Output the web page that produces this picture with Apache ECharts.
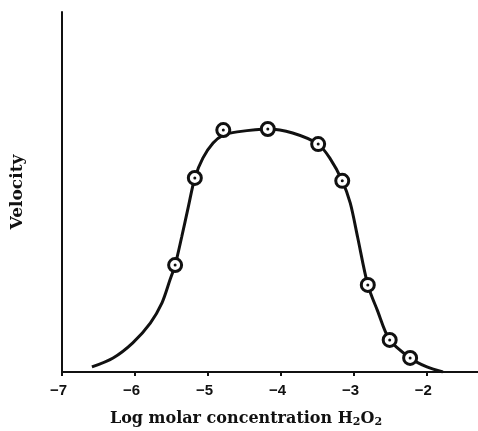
<!DOCTYPE html>
<html>
<head>
<meta charset="utf-8">
<script src="https://cdn.jsdelivr.net/npm/echarts@6/dist/echarts.min.js"></script>
<style>
  html, body { margin: 0; padding: 0; background: #fff; }
  #chart { width: 478px; height: 431px; }
</style>
</head>
<body>
<div id="chart"></div>
<script>
// Log molar concentration of H2O2 vs velocity (arbitrary units)
const xTicks = [-7, -6, -5, -4, -3, -2];

// measured points (circles)
const pointX = [-5.45, -5.18, -4.79, -4.18, -3.49, -3.16, -2.81, -2.51, -2.23];
const pointY = [29.7, 53.9, 67.2, 67.5, 63.3, 53.1, 24.2, 8.9, 3.9];

// fitted curve
const curveX = [-6.59, -6.30, -6.03, -5.79, -5.63, -5.52, -5.45, -5.36, -5.27, -5.18, -5.07, -4.93,
  -4.79, -4.60, -4.18, -3.84, -3.49, -3.33, -3.16, -3.05, -2.95, -2.81, -2.68, -2.51, -2.23, -2.00, -1.78];
const curveY = [1.4, 3.9, 8.1, 13.6, 19.2, 25.6, 29.7, 37.5, 45.8, 53.9, 59.4, 63.6,
  65.8, 66.7, 67.5, 66.4, 63.3, 59.4, 53.1, 46.9, 37.5, 24.2, 17.2, 8.9, 3.9, 1.4, 0];

const points = pointX.map((x, i) => [x, pointY[i]]);
const curve = curveX.map((x, i) => [x, curveY[i]]);

const serif = '"DejaVu Serif", "Liberation Serif", serif';

const chart = echarts.init(document.getElementById('chart'));
chart.setOption({
  animation: false,
  grid: { left: 62, right: 0, top: 12, bottom: 59, outerBoundsMode: 'none', containLabel: false },
  xAxis: {
    type: 'value',
    min: -7,
    max: -1.3,
    interval: 1,
    name: '{n|Log molar concentration H}{s|2}{n|O}{s|2}',
    nameLocation: 'middle',
    nameGap: 37,
    nameTextStyle: {
      padding: [0, 48, 0, 0],
      rich: {
        n: { fontFamily: serif, fontSize: 16, fontWeight: 'bold', color: '#111' },
        s: { fontFamily: serif, fontSize: 11, fontWeight: 'bold', color: '#111', padding: [8, 0, 0, 0] }
      }
    },
    axisLine: { lineStyle: { color: '#111', width: 2 } },
    axisTick: { show: true, inside: false, length: 4, lineStyle: { color: '#111', width: 2 } },
    axisLabel: {
      color: '#111',
      fontFamily: '"Liberation Sans", Arial, sans-serif',
      fontWeight: 'bold',
      fontSize: 15,
      margin: 11,
      padding: [0, 7, 0, 0],
      showMaxLabel: false,
      formatter: function (v) {
        return xTicks.indexOf(v) >= 0 ? '\u2212' + Math.abs(v) : '';
      }
    },
    splitLine: { show: false }
  },
  yAxis: {
    type: 'value',
    min: 0,
    max: 100,
    name: 'Velocity',
    nameLocation: 'middle',
    nameGap: 36,
    nameTextStyle: { fontFamily: serif, fontSize: 17, fontWeight: 'bold', color: '#111' },
    axisLine: { show: true, lineStyle: { color: '#111', width: 2 } },
    axisTick: { show: false },
    axisLabel: { show: false },
    splitLine: { show: false }
  },
  series: [
    {
      type: 'line',
      data: curve,
      smooth: 0.3,
      showSymbol: false,
      lineStyle: { color: '#111', width: 3 },
      z: 2
    },
    {
      type: 'scatter',
      data: points,
      symbol: 'circle',
      symbolSize: 13,
      itemStyle: { color: '#fff', borderColor: '#111', borderWidth: 3, opacity: 1 },
      z: 3
    },
    {
      type: 'scatter',
      data: points,
      symbol: 'circle',
      symbolSize: 3,
      itemStyle: { color: '#111', opacity: 1 },
      z: 4
    }
  ]
});
</script>
</body>
</html>
